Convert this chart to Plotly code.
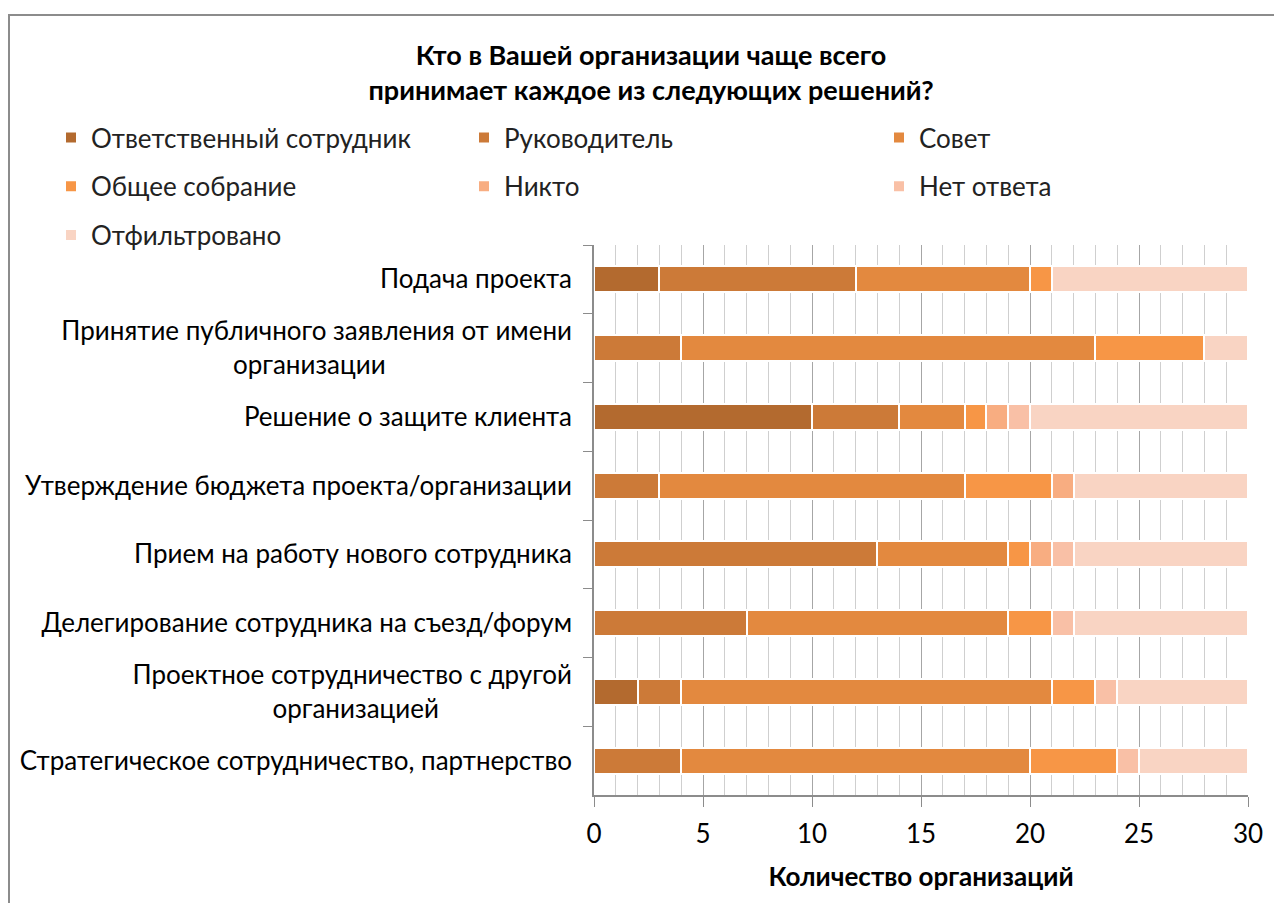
import plotly.graph_objects as go

categories = [
    "Подача проекта",
    "Принятие публичного заявления от имени<br>организации",
    "Решение о защите клиента",
    "Утверждение бюджета проекта/организации",
    "Прием на работу нового сотрудника",
    "Делегирование сотрудника на съезд/форум",
    "Проектное сотрудничество с другой<br>организацией",
    "Стратегическое сотрудничество, партнерство",
]

series_names = [
    "Ответственный сотрудник",
    "Руководитель",
    "Совет",
    "Общее собрание",
    "Никто",
    "Нет ответа",
    "Отфильтровано",
]

otvetstvenny = [3, 0, 10, 0, 0, 0, 2, 0]
rukovoditel = [9, 4, 4, 3, 13, 7, 2, 4]
sovet = [8, 19, 3, 14, 6, 12, 17, 16]
obshchee = [1, 5, 1, 4, 1, 2, 2, 4]
nikto = [0, 0, 1, 1, 1, 0, 0, 0]
net_otveta = [0, 0, 1, 0, 1, 1, 1, 1]
otfiltrovano = [9, 2, 10, 8, 8, 8, 6, 5]

series_values = [otvetstvenny, rukovoditel, sovet, obshchee, nikto, net_otveta, otfiltrovano]
colors = ["#b36a2f", "#cc7a38", "#e3893f", "#f79646", "#f8ad81", "#f9c0a6", "#f9d4c3"]
# legend laid out in three columns, like the reference
legend_ids = ["legend", "legend2", "legend3", "legend", "legend2", "legend3", "legend"]

FONT = "Lato"
FS = 26
NB = "\u00a0"
# visually centre the second line of two-line labels
labels = list(categories)
labels[1] = labels[1].replace("<br>организации", "<br>организации" + NB * 28)
labels[6] = labels[6].replace("<br>организацией", "<br>организацией" + NB * 20)

fig = go.Figure()
for i, (name, vals, col, lg) in enumerate(zip(series_names, series_values, colors, legend_ids)):
    fig.add_trace(go.Bar(
        y=labels, x=vals, name=name, orientation="h",
        marker=dict(color=col, line=dict(color="white", width=2)),
        legend=lg, legendgroup="g%d" % i,
    ))

W, H = 1282, 903
L, T, R, B = 586, 237, 42, 116
PW, PH = W - L - R, H - T - B

leg_common = dict(
    orientation="v", xref="container", yref="container",
    xanchor="left", yanchor="top", y=1 - 106 / H,
    font=dict(family=FONT, size=FS, color="#222222"),
    traceorder="grouped", tracegroupgap=12,
    bgcolor="rgba(0,0,0,0)", itemclick=False,
)

fig.update_layout(
    width=W, height=H,
    paper_bgcolor="white", plot_bgcolor="white",
    barmode="stack", bargap=0.62,
    margin=dict(l=L, r=R, t=T, b=B, autoexpand=False),
    title=dict(
        text="<b>Кто в Вашей организации чаще всего<br>принимает каждое из следующих решений?</b>",
        x=643 / W, xanchor="center", y=1 - 57 / H, yanchor="middle",
        font=dict(family=FONT, size=27, color="#000000"),
    ),
    legend=dict(**leg_common, x=43 / W),
    legend2=dict(**leg_common, x=456 / W),
    legend3=dict(**leg_common, x=871 / W),
    xaxis=dict(
        range=[0, 30], dtick=5, tick0=0,
        showgrid=True, gridcolor="#a6a6a6", gridwidth=1,
        minor=dict(dtick=1, showgrid=True, gridcolor="#cfcfcf", gridwidth=1, ticks=""),
        showline=True, linecolor="#8c8c8c", linewidth=1.5,
        ticks="outside", ticklen=10, tickcolor="#8c8c8c", ticklabelstandoff=5,
        tickfont=dict(family=FONT, size=FS, color="#000000"),
        title=dict(text="<b>Количество организаций</b>", font=dict(family=FONT, size=FS, color="#000000"), standoff=20),
        zeroline=False, fixedrange=True, automargin=False,
    ),
    yaxis=dict(
        categoryorder="array", categoryarray=labels, autorange="reversed",
        showline=True, linecolor="#8c8c8c", linewidth=1.5,
        ticks="outside", ticklen=9, tickcolor="#8c8c8c", tickson="boundaries",
        ticklabelstandoff=15,
        tickfont=dict(family=FONT, size=FS, color="#000000"),
        showgrid=False, fixedrange=True, automargin=False,
    ),
    shapes=[dict(
        type="rect", xref="paper", yref="paper",
        x0=(1 - L) / PW, x1=(1267 - L) / PW,
        y0=(H - B - 897) / PH, y1=(H - B - 7) / PH,
        line=dict(color="#8c8c8c", width=2), fillcolor="rgba(0,0,0,0)", layer="below",
    )],
)

fig.write_html("out.html")
